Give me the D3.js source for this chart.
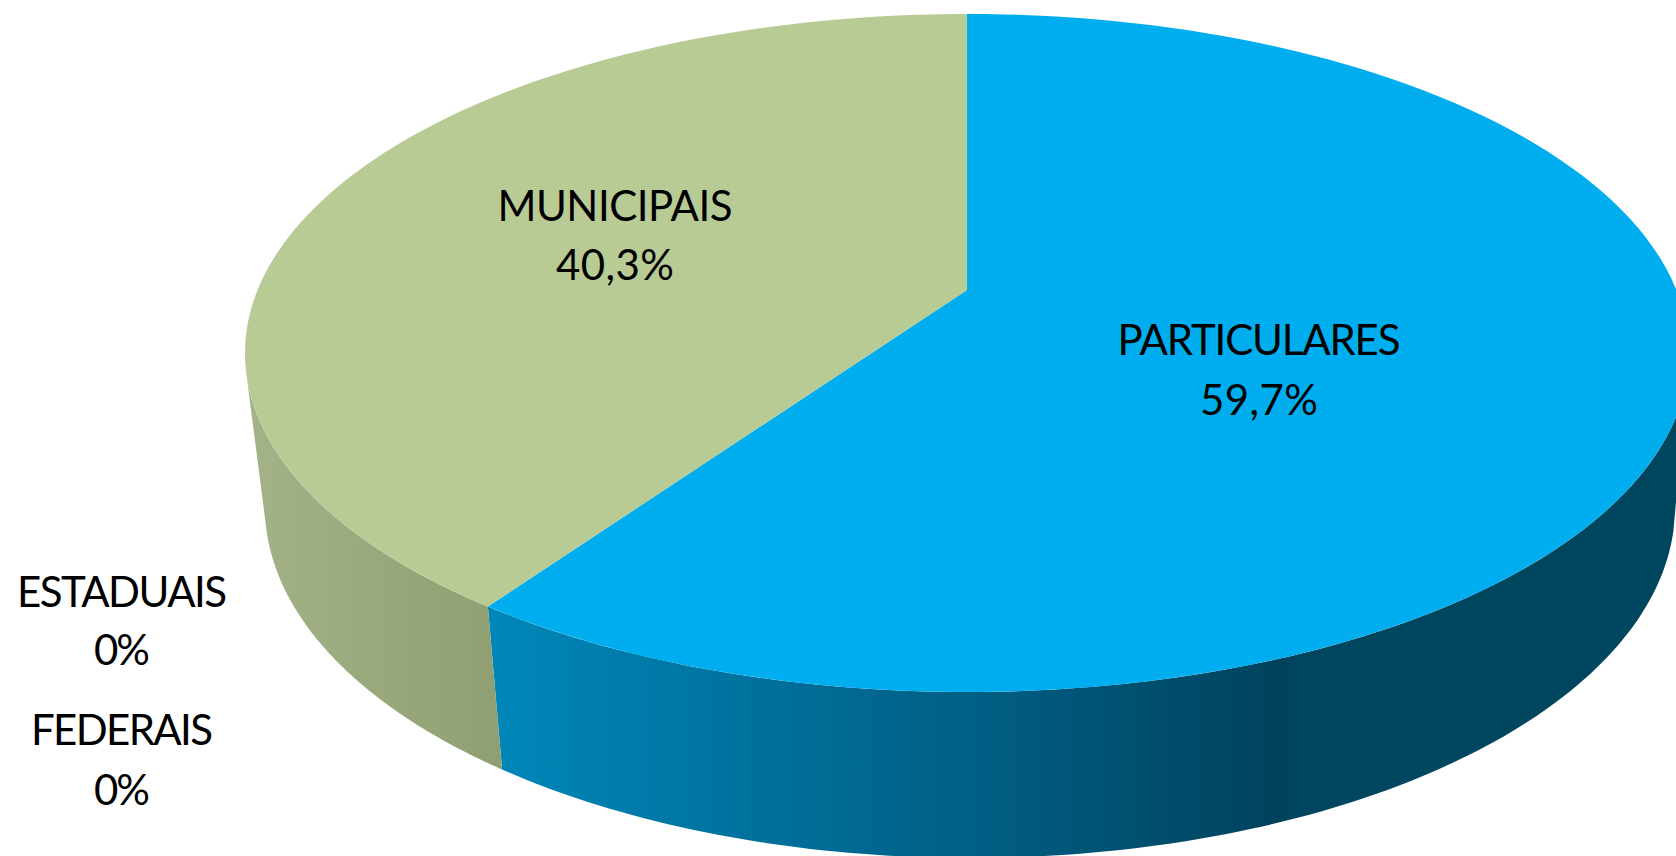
<!DOCTYPE html>
<html>
<head>
<meta charset="utf-8">
<title>Pie</title>
<script src="https://cdn.jsdelivr.net/npm/d3@7"></script>
<style>
  body { margin: 0; background: #fff; overflow: hidden; }
  text { font-family: Lato, "Open Sans", sans-serif; fill: #000; text-anchor: middle; }
</style>
</head>
<body>
<div id="chart"></div>
<script>
var categories = ["PARTICULARES", "MUNICIPAIS", "ESTADUAIS", "FEDERAIS"];
var values = [59.7, 40.3, 0, 0];
var topColors = ["#00aeef", "#b9cb94", "#b9cb94", "#b9cb94"];

var width = 1676, height = 856;

// where each label block sits (centre x, first baseline, second baseline)
var labelSpots = [
  [1259, 355, 415],
  [615, 221, 280],
  [122, 607, 665],
  [122, 745, 805]
];
// label widths, the font runs a little wider than the original one
var nameWidths = [283, 235, 210, 182];
var valueWidths = [118, 118, 56, 56];

var svg = d3.select("#chart").append("svg")
  .attr("width", width)
  .attr("height", height)
  .style("display", "block");

// top face and foot of the disc are two ellipses
var xTop = d3.scaleLinear().domain([-1, 1]).range([245, 1689]);
var yTop = d3.scaleLinear().domain([-1, 1]).range([14, 692]);
var xFoot = d3.scaleLinear().domain([-1, 1]).range([265, 1675]);
var yFoot = d3.scaleLinear().domain([-1, 1]).range([156, 858]);

// perspective: pulls the pie centre up from the middle of the ellipse
var tilt = -0.186;
var edgeAngle = 1.823; // angle (from 12 o'clock) where the side turns out of view

function project(angle, r) {
  var u = Math.sin(angle) * r, v = -Math.cos(angle) * r;
  var d = 1 + tilt * v;
  return [u * Math.sqrt(1 - tilt * tilt) / d, (v + tilt) / d];
}
function onTop(angle, r) {
  var p = project(angle, r);
  return [xTop(p[0]), yTop(p[1])];
}
function onFoot(angle) {
  var p = project(angle, 1);
  return [xFoot(p[0]), yFoot(p[1])];
}
function steps(a0, a1) {
  return d3.range(0, 121).map(function(i) { return a0 + (a1 - a0) * i / 120; });
}

var pie = d3.pie().sort(null);
var slices = pie(values);
var line = d3.line();

var defs = svg.append("defs");
function sideGradient(id, x1, x2, stops) {
  var g = defs.append("linearGradient")
    .attr("id", id)
    .attr("gradientUnits", "userSpaceOnUse")
    .attr("x1", x1).attr("x2", x2)
    .attr("y1", 0).attr("y2", 0);
  stops.forEach(function(s) {
    g.append("stop").attr("offset", s[0]).attr("stop-color", s[1]);
  });
}
sideGradient("side0", 487, 1300, [[0, "#0087ba"], [0.6, "#005f85"], [0.98, "#00425c"], [1, "#00465f"]]);
sideGradient("side1", 247, 502, [[0, "#a3b387"], [1, "#8f9f72"]]);

// sides first, the top face paints over them
slices.forEach(function(d, i) {
  if (d.value <= 0) return;
  var a0 = Math.max(d.startAngle, edgeAngle);
  var a1 = Math.min(d.endAngle, 2 * Math.PI - edgeAngle);
  if (a1 <= a0) return;
  var upper = steps(a0, a1).map(function(a) { return onTop(a, 1); });
  var lower = steps(a0, a1).map(onFoot).reverse();
  svg.append("path")
    .attr("d", line(upper.concat(lower)) + "Z")
    .attr("fill", "url(#side" + i + ")");
});

slices.forEach(function(d, i) {
  if (d.value <= 0) return;
  var rim = steps(d.startAngle, d.endAngle).map(function(a) { return onTop(a, 1); });
  svg.append("path")
    .attr("d", line([onTop(0, 0)].concat(rim)) + "Z")
    .attr("fill", topColors[i]);
});

function percent(v) {
  return String(v).replace(".", ",") + "%";
}

categories.forEach(function(name, i) {
  var spot = labelSpots[i];
  svg.append("text").attr("x", spot[0]).attr("y", spot[1])
    .attr("font-size", 42)
    .attr("textLength", nameWidths[i]).attr("lengthAdjust", "spacing")
    .text(name);
  svg.append("text").attr("x", spot[0]).attr("y", spot[2])
    .attr("font-size", 42)
    .attr("textLength", valueWidths[i]).attr("lengthAdjust", "spacing")
    .text(percent(values[i]));
});
</script>
</body>
</html>
